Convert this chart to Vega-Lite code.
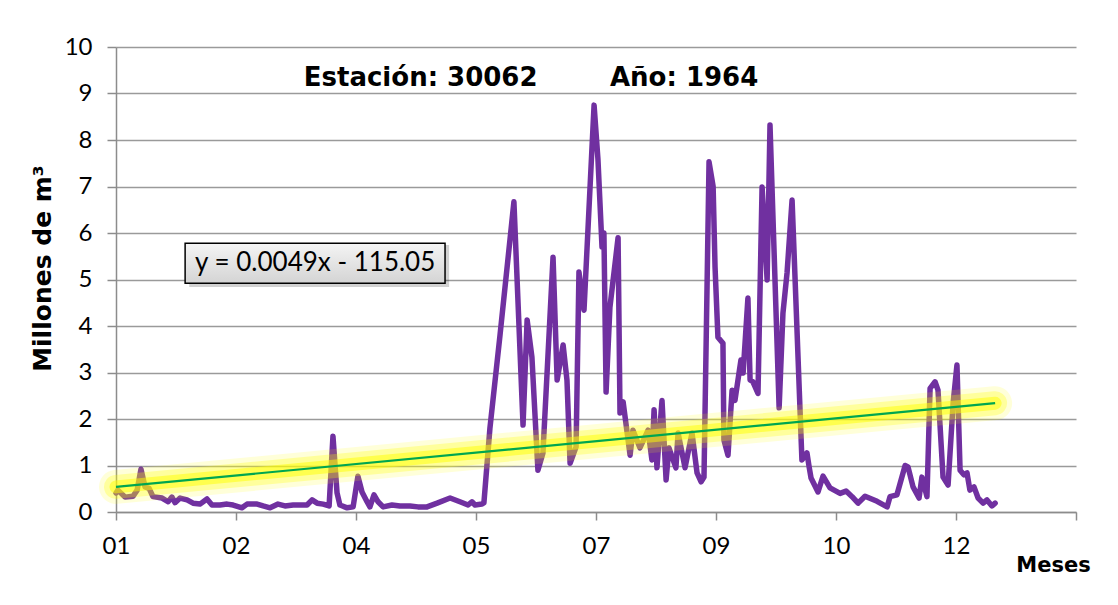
{
  "$schema": "https://vega.github.io/schema/vega-lite/v6.json",
  "width": 960,
  "height": 465,
  "autosize": "none",
  "padding": {"left": 116, "top": 47, "right": 42, "bottom": 93},
  "background": "white",
  "title": {
    "text": "Estación: 30062\u00a0\u00a0\u00a0\u00a0\u00a0\u00a0\u00a0\u00a0Año: 1964",
    "font": "DejaVu Sans",
    "fontSize": 26,
    "fontWeight": "bold",
    "color": "black",
    "anchor": "middle",
    "frame": "group",
    "baseline": "middle",
    "offset": 0,
    "dx": -65,
    "dy": 69
  },
  "datasets": {
    "caudal": [
      {"dia": 0, "valor": 0.41}, {"dia": 0.8, "valor": 0.47}, {"dia": 3.8, "valor": 0.32}, {"dia": 7.1, "valor": 0.34},
      {"dia": 8.8, "valor": 0.47}, {"dia": 10.4, "valor": 0.92}, {"dia": 12.1, "valor": 0.54}, {"dia": 13.8, "valor": 0.51},
      {"dia": 15.4, "valor": 0.33}, {"dia": 19.2, "valor": 0.3}, {"dia": 21.7, "valor": 0.22}, {"dia": 23.3, "valor": 0.32},
      {"dia": 24.6, "valor": 0.2}, {"dia": 26.7, "valor": 0.3}, {"dia": 29.6, "valor": 0.26}, {"dia": 32.1, "valor": 0.19},
      {"dia": 35, "valor": 0.17}, {"dia": 37.9, "valor": 0.28}, {"dia": 40, "valor": 0.15}, {"dia": 43.3, "valor": 0.15},
      {"dia": 46.3, "valor": 0.17}, {"dia": 48.8, "valor": 0.15}, {"dia": 52.5, "valor": 0.09}, {"dia": 54.6, "valor": 0.17},
      {"dia": 58.8, "valor": 0.17}, {"dia": 61.3, "valor": 0.13}, {"dia": 64.2, "valor": 0.09}, {"dia": 67.5, "valor": 0.17},
      {"dia": 70.4, "valor": 0.13}, {"dia": 73.8, "valor": 0.15}, {"dia": 77.5, "valor": 0.15}, {"dia": 79.6, "valor": 0.15},
      {"dia": 81.7, "valor": 0.26}, {"dia": 83.8, "valor": 0.19}, {"dia": 86.3, "valor": 0.17}, {"dia": 88.8, "valor": 0.13},
      {"dia": 90.4, "valor": 1.63}, {"dia": 92.1, "valor": 0.41}, {"dia": 93.3, "valor": 0.15}, {"dia": 96.3, "valor": 0.09},
      {"dia": 98.8, "valor": 0.11}, {"dia": 100.8, "valor": 0.77}, {"dia": 102.5, "valor": 0.43}, {"dia": 104.6, "valor": 0.22},
      {"dia": 105.8, "valor": 0.11}, {"dia": 107.5, "valor": 0.37}, {"dia": 109.2, "valor": 0.22}, {"dia": 111.3, "valor": 0.11},
      {"dia": 115, "valor": 0.15}, {"dia": 118.3, "valor": 0.13}, {"dia": 122.5, "valor": 0.13}, {"dia": 125.8, "valor": 0.11},
      {"dia": 129.6, "valor": 0.11}, {"dia": 133.8, "valor": 0.19}, {"dia": 139.2, "valor": 0.3}, {"dia": 143.3, "valor": 0.22},
      {"dia": 146.7, "valor": 0.15}, {"dia": 148.3, "valor": 0.22}, {"dia": 149.6, "valor": 0.15}, {"dia": 152.5, "valor": 0.17},
      {"dia": 153.3, "valor": 0.2}, {"dia": 155.8, "valor": 1.8}, {"dia": 160, "valor": 3.8}, {"dia": 165.8, "valor": 6.67},
      {"dia": 169.6, "valor": 1.87}, {"dia": 171.3, "valor": 4.13}, {"dia": 173.3, "valor": 3.33}, {"dia": 175.8, "valor": 0.9},
      {"dia": 177.9, "valor": 1.27}, {"dia": 182.1, "valor": 5.48}, {"dia": 183.8, "valor": 2.84}, {"dia": 186.3, "valor": 3.59},
      {"dia": 187.9, "valor": 2.84}, {"dia": 189.2, "valor": 1.05}, {"dia": 191.7, "valor": 1.4}, {"dia": 192.9, "valor": 5.16},
      {"dia": 195, "valor": 4.34}, {"dia": 199.2, "valor": 8.75}, {"dia": 200.8, "valor": 7.6}, {"dia": 202.5, "valor": 5.7},
      {"dia": 203.3, "valor": 6.0}, {"dia": 204.2, "valor": 2.58}, {"dia": 205.8, "valor": 4.4}, {"dia": 209.2, "valor": 5.9},
      {"dia": 210, "valor": 2.13}, {"dia": 211.3, "valor": 2.37}, {"dia": 214.2, "valor": 1.22}, {"dia": 215.4, "valor": 1.76},
      {"dia": 218.3, "valor": 1.38}, {"dia": 221.7, "valor": 1.76}, {"dia": 223.3, "valor": 1.12}, {"dia": 224.2, "valor": 2.2},
      {"dia": 225.4, "valor": 0.95}, {"dia": 227.5, "valor": 2.4}, {"dia": 229.2, "valor": 0.69}, {"dia": 230.4, "valor": 1.38},
      {"dia": 233.3, "valor": 0.95}, {"dia": 234.2, "valor": 1.7}, {"dia": 237.1, "valor": 0.95}, {"dia": 240, "valor": 1.7},
      {"dia": 242.1, "valor": 0.84}, {"dia": 243.8, "valor": 0.65}, {"dia": 245, "valor": 0.75}, {"dia": 247.1, "valor": 7.53},
      {"dia": 248.8, "valor": 7.0}, {"dia": 249.6, "valor": 5.27}, {"dia": 250.8, "valor": 3.76}, {"dia": 252.9, "valor": 3.63},
      {"dia": 253.3, "valor": 1.55}, {"dia": 255, "valor": 1.22}, {"dia": 256.7, "valor": 2.62}, {"dia": 257.9, "valor": 2.4},
      {"dia": 260.4, "valor": 3.27}, {"dia": 261.3, "valor": 2.99}, {"dia": 263.3, "valor": 4.6}, {"dia": 264.2, "valor": 2.84},
      {"dia": 265.4, "valor": 2.8}, {"dia": 267.5, "valor": 2.55}, {"dia": 269.2, "valor": 6.99}, {"dia": 271.3, "valor": 4.99},
      {"dia": 272.5, "valor": 8.32}, {"dia": 276.3, "valor": 2.24}, {"dia": 277.9, "valor": 4.28}, {"dia": 279.6, "valor": 5.14},
      {"dia": 281.7, "valor": 6.71}, {"dia": 285.8, "valor": 1.12}, {"dia": 287.9, "valor": 1.27}, {"dia": 288.8, "valor": 0.97},
      {"dia": 289.6, "valor": 0.73}, {"dia": 292.5, "valor": 0.43}, {"dia": 294.6, "valor": 0.77}, {"dia": 297.5, "valor": 0.52},
      {"dia": 301.7, "valor": 0.4}, {"dia": 304.2, "valor": 0.45}, {"dia": 306.7, "valor": 0.33}, {"dia": 309.2, "valor": 0.19},
      {"dia": 312.1, "valor": 0.34}, {"dia": 317.1, "valor": 0.23}, {"dia": 321.3, "valor": 0.11}, {"dia": 322.5, "valor": 0.33},
      {"dia": 325.4, "valor": 0.37}, {"dia": 328.8, "valor": 1.0}, {"dia": 330, "valor": 0.97}, {"dia": 332.1, "valor": 0.54},
      {"dia": 334.6, "valor": 0.3}, {"dia": 335.8, "valor": 0.75}, {"dia": 337.9, "valor": 0.33}, {"dia": 339.2, "valor": 2.66},
      {"dia": 341.3, "valor": 2.8}, {"dia": 342.5, "valor": 2.62}, {"dia": 344.6, "valor": 0.75}, {"dia": 346.7, "valor": 0.58},
      {"dia": 348.8, "valor": 2.34}, {"dia": 350.4, "valor": 3.16}, {"dia": 351.7, "valor": 0.9}, {"dia": 353.3, "valor": 0.8},
      {"dia": 354.6, "valor": 0.84}, {"dia": 355.8, "valor": 0.47}, {"dia": 357.5, "valor": 0.54}, {"dia": 359.2, "valor": 0.3},
      {"dia": 361.3, "valor": 0.19}, {"dia": 362.9, "valor": 0.26}, {"dia": 365, "valor": 0.13}, {"dia": 366.3, "valor": 0.19}
    ],
    "tendencia": [
      {"dia": 0, "valor": 0.54},
      {"dia": 366.3, "valor": 2.34}
    ],
    "ecuacion": [
      {"texto": "y = 0.0049x - 115.05"}
    ]
  },
  "layer": [
    {
      "data": {"name": "caudal"},
      "mark": {"type": "line", "color": "#7030a0", "strokeWidth": 5.5, "strokeJoin": "round", "strokeCap": "round"},
      "encoding": {
        "x": {
          "field": "dia",
          "type": "quantitative",
          "scale": {"domain": [0, 400], "nice": false, "zero": false},
          "axis": {
            "values": [0, 50, 100, 150, 200, 250, 300, 350, 400],
            "labelExpr": "['01','02','04','05','07','09','10','12',''][round(datum.value/50)]",
            "grid": false,
            "domainColor": "#8c8c8c",
            "domainWidth": 1.5,
            "tickColor": "#8c8c8c",
            "tickWidth": 1.5,
            "tickSize": 8,
            "labelFont": "Lato",
            "labelFontSize": 24,
            "labelColor": "black",
            "labelPadding": 14,
            "labelFlush": false,
            "labelOverlap": false,
            "title": "Meses",
            "titleFont": "DejaVu Sans",
            "titleFontSize": 21,
            "titleFontWeight": "bold",
            "titleColor": "black",
            "titleX": 937,
            "titleY": 53,
            "titleAlign": "center",
            "titleBaseline": "middle"
          }
        },
        "y": {
          "field": "valor",
          "type": "quantitative",
          "scale": {"domain": [0, 10], "nice": false},
          "axis": {
            "values": [0, 1, 2, 3, 4, 5, 6, 7, 8, 9, 10],
            "grid": true,
            "gridColor": "#9a9a9a",
            "gridWidth": 1.5,
            "domainColor": "#8c8c8c",
            "domainWidth": 1.5,
            "tickColor": "#8c8c8c",
            "tickWidth": 1.5,
            "tickSize": 9,
            "labelFont": "Lato",
            "labelFontSize": 24,
            "labelColor": "black",
            "labelPadding": 15,
            "title": "Millones de m³",
            "titleFont": "DejaVu Sans",
            "titleFontSize": 25,
            "titleFontWeight": "bold",
            "titleColor": "black",
            "titlePadding": 9,
            "titleY": 221
          }
        }
      }
    },
    {
      "data": {"name": "tendencia"},
      "mark": {"type": "line", "color": "#ffff00", "strokeWidth": 34, "opacity": 0.15, "strokeCap": "round"},
      "encoding": {"x": {"field": "dia", "type": "quantitative"}, "y": {"field": "valor", "type": "quantitative"}}
    },
    {
      "data": {"name": "tendencia"},
      "mark": {"type": "line", "color": "#ffff00", "strokeWidth": 24, "opacity": 0.28, "strokeCap": "round"},
      "encoding": {"x": {"field": "dia", "type": "quantitative"}, "y": {"field": "valor", "type": "quantitative"}}
    },
    {
      "data": {"name": "tendencia"},
      "mark": {"type": "line", "color": "#ffff00", "strokeWidth": 13, "opacity": 0.5, "strokeCap": "round"},
      "encoding": {"x": {"field": "dia", "type": "quantitative"}, "y": {"field": "valor", "type": "quantitative"}}
    },
    {
      "data": {"name": "tendencia"},
      "mark": {"type": "line", "color": "#00a650", "strokeWidth": 2.2},
      "encoding": {"x": {"field": "dia", "type": "quantitative"}, "y": {"field": "valor", "type": "quantitative"}}
    },
    {
      "data": {"name": "ecuacion"},
      "mark": {"type": "rect", "fill": "#000000", "opacity": 0.18},
      "encoding": {
        "x": {"datum": 30.5, "type": "quantitative"},
        "x2": {"datum": 138.8},
        "y": {"datum": 5.74, "type": "quantitative"},
        "y2": {"datum": 4.84}
      }
    },
    {
      "data": {"name": "ecuacion"},
      "mark": {
        "type": "rect",
        "stroke": "black",
        "strokeWidth": 1.5,
        "fill": {
          "gradient": "linear",
          "x1": 0, "y1": 0, "x2": 0, "y2": 1,
          "stops": [
            {"offset": 0, "color": "#f4f4f4"},
            {"offset": 1, "color": "#d4d4d4"}
          ]
        }
      },
      "encoding": {
        "x": {"datum": 28.8, "type": "quantitative"},
        "x2": {"datum": 137.1},
        "y": {"datum": 5.78, "type": "quantitative"},
        "y2": {"datum": 4.92}
      }
    },
    {
      "data": {"name": "ecuacion"},
      "mark": {"type": "text", "font": "Lato", "fontSize": 26, "color": "black", "align": "center", "baseline": "middle"},
      "encoding": {
        "x": {"datum": 83, "type": "quantitative"},
        "y": {"datum": 5.35, "type": "quantitative"},
        "text": {"field": "texto", "type": "nominal"}
      }
    }
  ],
  "config": {
    "view": {"stroke": null}
  }
}
